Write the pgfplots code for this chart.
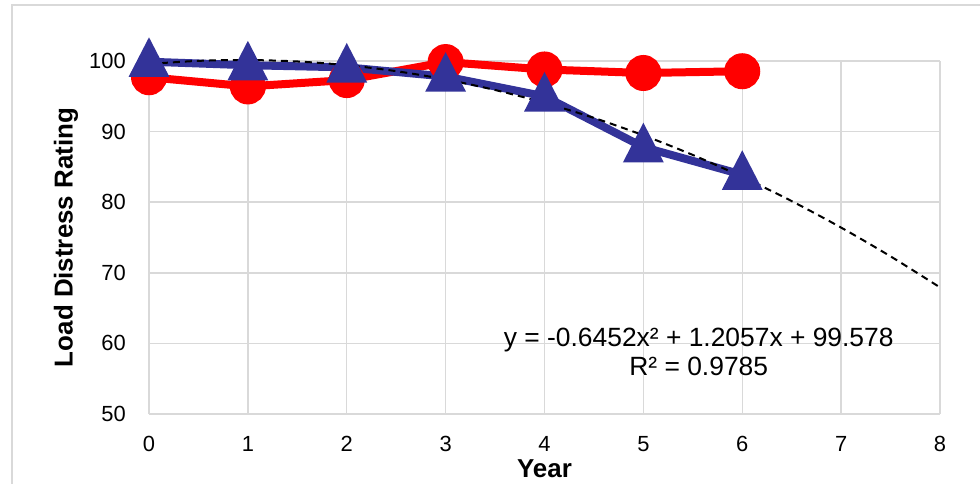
\documentclass[border=0pt]{standalone}
\usepackage{fontspec}
\setmainfont{Liberation Sans}
\usepackage{pgfplots}
\pgfplotsset{compat=1.18}
\usetikzlibrary{calc}
\definecolor{gridgray}{RGB}{217,217,217}
\definecolor{navy}{RGB}{51,51,153}
\begin{document}
\begin{tikzpicture}
\begin{axis}[name=ax, scale only axis, width=791bp, height=353bp,
  xmin=0, xmax=8, ymin=50, ymax=100,
  xtick={0,...,8}, ytick={50,60,...,100},
  grid=major, major grid style={gridgray, line width=1.5bp},
  axis line style={draw=none},
  major tick length=0pt,
  clip=false,
  /pgf/number format/assume math mode=true,
  tick label style={font=\fontsize{22}{24}\selectfont, inner sep=0pt},
  xticklabel style={yshift=-22bp, anchor=north},
  yticklabel style={xshift=-23bp, anchor=east},
]
\draw[gridgray, line width=1.5bp] (axis cs:0,50) -- (axis cs:8,50);
\addplot[red, line width=8bp, mark=*, mark size=14bp, mark options={draw=none, fill=red}]
  coordinates {(0,97.7) (1,96.4) (2,97.3) (3,99.85) (4,98.8) (5,98.3) (6,98.55)};
\addplot[navy, line width=8bp, mark=triangle*, mark size=16bp, mark options={draw=none, fill=navy, yscale=1.12, yshift=-2bp}]
  coordinates {(0,99.9) (1,99.4) (2,99.1) (3,97.8) (4,95.0) (5,87.8) (6,83.9)};
\addplot[black, line width=2bp, dash pattern=on 7bp off 5bp, smooth]
  coordinates {(0,99.578) (0.5,100.0196) (1,100.1385) (1.5,99.9349) (2,99.4086) (2.5,98.5598)
  (3,97.3883) (3.5,95.8943) (4,94.0776) (4.5,91.9384) (5,89.4765) (5.5,86.6921) (6,83.585)
  (6.5,80.1554) (7,76.4031) (7.5,72.3283) (8,67.9308)};
\node[anchor=base, font=\fontsize{26.5}{30}\selectfont] at (axis cs:5.56,59.5) {y = -0.6452x² + 1.2057x + 99.578};
\node[anchor=base, font=\fontsize{26.5}{30}\selectfont] at (axis cs:5.56,55.5) {R² = 0.9785};
\end{axis}
\node[anchor=base, font=\fontsize{26}{30}\selectfont\bfseries] at ($(ax.south)+(0,-63bp)$) {Year};
\node[rotate=90, anchor=center, font=\fontsize{26}{30}\selectfont\bfseries] at ($(ax.west)+(-83bp,0)$) {Load Distress Rating};
\draw[gridgray, line width=1.5bp] ($(ax.south west)+(-137bp,-100bp)$) rectangle ($(ax.south west)+(850bp,409bp)$);
\pgfresetboundingbox
\path ($(ax.south west)+(-149bp,-70bp)$) rectangle ($(ax.south west)+(831bp,414bp)$);
\end{tikzpicture}
\end{document}
